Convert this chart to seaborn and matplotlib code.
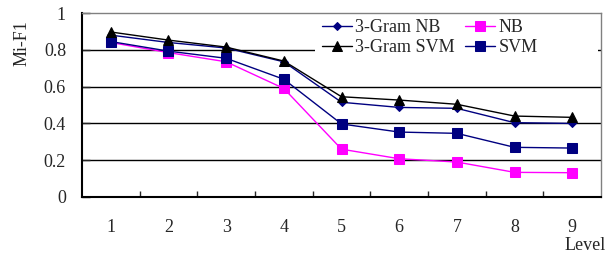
import numpy as np
import pandas as pd
import matplotlib
matplotlib.use("Agg")
import matplotlib.pyplot as plt
from matplotlib.patches import Rectangle
import seaborn as sns

# data
levels = [1, 2, 3, 4, 5, 6, 7, 8, 9]
gram3_nb = [0.88, 0.84, 0.81, 0.735, 0.515, 0.487, 0.482, 0.404, 0.400]
gram3_svm = [0.897, 0.853, 0.815, 0.739, 0.545, 0.527, 0.504, 0.440, 0.433]
nb = [0.840, 0.785, 0.735, 0.590, 0.260, 0.208, 0.190, 0.134, 0.132]
svm = [0.845, 0.793, 0.754, 0.640, 0.397, 0.353, 0.346, 0.270, 0.266]

series = {"NB": nb, "SVM": svm, "3-Gram NB": gram3_nb, "3-Gram SVM": gram3_svm}
df = pd.concat(
    [pd.DataFrame({"Level": levels, "Mi-F1": v, "method": k}) for k, v in series.items()],
    ignore_index=True,
)

sns.set_style("white")
plt.rcParams["font.family"] = ["Liberation Serif", "DejaVu Serif"]
plt.rcParams["font.size"] = 13

colors = {"NB": "#FF00FF", "SVM": "#000080", "3-Gram NB": "#000080", "3-Gram SVM": "black"}
markers = {"NB": "s", "SVM": "s", "3-Gram NB": "D", "3-Gram SVM": "^"}
msizes = {"NB": 7, "SVM": 7, "3-Gram NB": 4.5, "3-Gram SVM": 7}

fig = plt.figure(figsize=(6.05, 2.56), dpi=100)
ax = fig.add_axes([0.1355, 0.2305, 0.858, 0.7185])

for name in series:
    sub = df[df["method"] == name]
    sns.lineplot(
        data=sub, x="Level", y="Mi-F1", ax=ax, color=colors[name],
        marker=markers[name], markersize=msizes[name], markeredgecolor=colors[name],
        linewidth=1.0, label=name, zorder=3,
    )

ax.set_xlim(0.5, 9.5)
ax.set_ylim(0, 1)
ax.set_xticks(levels)
ax.set_xticks([x + 0.5 for x in levels[:-1]], minor=True)
ax.set_yticks([0, 0.2, 0.4, 0.6, 0.8, 1])
ax.set_yticklabels(["0", "0.2", "0.4", "0.6", "0.8", "1"])
ax.tick_params(axis="x", which="major", length=0, pad=16)
ax.tick_params(axis="x", which="minor", direction="in", length=4, width=1, bottom=True)
ax.tick_params(axis="y", direction="in", length=6, width=1, pad=11.5, left=True)

for y in [0.2, 0.4, 0.6, 0.8]:
    ax.axhline(y, color="black", linewidth=1, zorder=0)

# plot area frame: black left/bottom, grey top/right
for s in ["top", "right"]:
    ax.spines[s].set_color("#808080")
    ax.spines[s].set_linewidth(1)
for s in ["left", "bottom"]:
    ax.spines[s].set_color("black")
    ax.spines[s].set_linewidth(1.5)

# white legend area hides the gridline under it
ax.add_patch(Rectangle((315, 256 - 53), 283, 39, transform=None,
                       facecolor="white", edgecolor="none", zorder=1))

ax.set_xlabel("")
ax.set_ylabel("")
fig.text(22 / 605, 1 - 43 / 256, "Mi-F1", rotation=90, ha="center", va="center")
fig.text(585 / 605, 1 - 245 / 256, "Level", ha="center", va="center")

handles, labels = ax.get_legend_handles_labels()
order = ["3-Gram NB", "3-Gram SVM", "NB", "SVM"]
h = [handles[labels.index(o)] for o in order]
leg = ax.legend(
    h, order, ncol=2, loc="upper left", bbox_to_anchor=(322 / 605, 1 - 19 / 256),
    bbox_transform=fig.transFigure, frameon=False, borderpad=0,
    handlelength=1.65, handletextpad=0.2, columnspacing=0.55,
    labelspacing=0.17, borderaxespad=0,
)
leg.set_zorder(5)

fig.savefig("out.png", dpi=100)
